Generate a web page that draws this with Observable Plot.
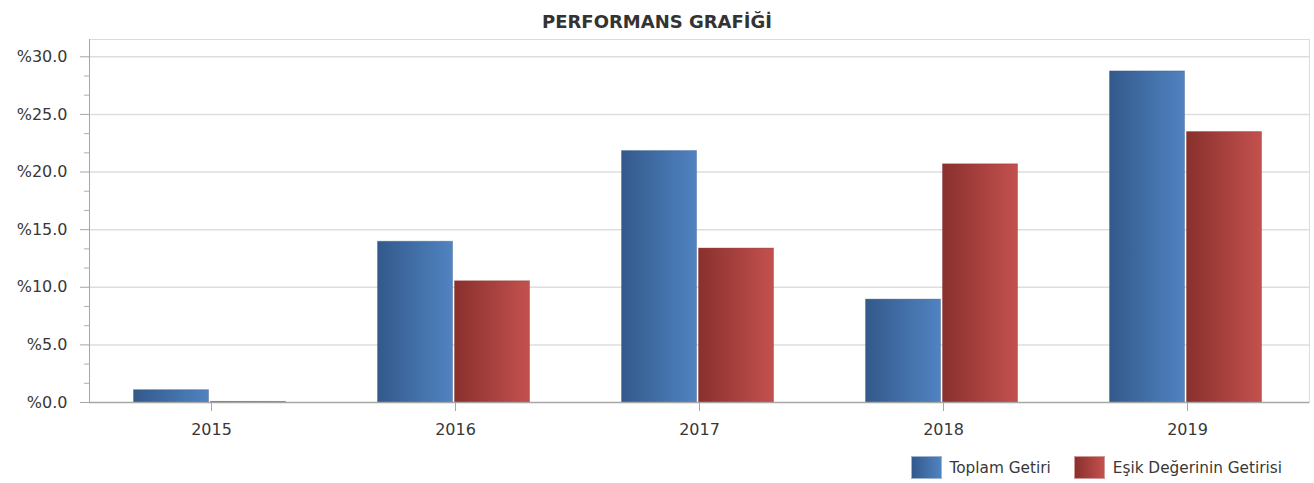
<!DOCTYPE html>
<html>
<head>
<meta charset="utf-8">
<script src="https://cdn.jsdelivr.net/npm/d3@7"></script>
<script src="https://cdn.jsdelivr.net/npm/@observablehq/plot@0.6"></script>
<style>
  html, body { margin: 0; padding: 0; background: #fff; }
  body { width: 1314px; height: 483px; overflow: hidden; font-family: "DejaVu Sans", sans-serif; }
  #title { height: 30px; line-height: 30px; padding-top: 7px; text-align: center; font-weight: bold; font-size: 18px; color: #333; }
  #chart svg { display: block; }
  #legend { display: flex; justify-content: flex-end; align-items: center; padding-top: 6px; padding-right: 32px; font-size: 15.3px; color: #383838; }
  .item { display: flex; align-items: center; margin-left: 23px; }
  .sw { width: 31px; height: 23px; margin-right: 8px; box-sizing: border-box; }
</style>
</head>
<body>
<div id="title">PERFORMANS GRAFİĞİ</div>
<div id="chart"></div>
<div id="legend"></div>
<script>
const years = ["2015", "2016", "2017", "2018", "2019"];
const seriesNames = ["Toplam Getiri", "Eşik Değerinin Getirisi"];
const toplamGetiri = [1.07, 13.95, 21.82, 8.93, 28.73];
const esikGetirisi = [0.05, 10.52, 13.36, 20.67, 23.47];
const yTicks = [0, 5, 10, 15, 20, 25, 30];
const seriesColors = [["#33598b", "#5083c1"], ["#89302d", "#c3514e"]];

const rows = [];
years.forEach((y, i) => {
  rows.push({year: y, series: seriesNames[0], value: toplamGetiri[i]});
  rows.push({year: y, series: seriesNames[1], value: esikGetirisi[i]});
});
const minorTicks = [];
for (let i = 0; i < yTicks.length - 1; i++) {
  const a = yTicks[i], b = yTicks[i + 1];
  minorTicks.push(a + (b - a) / 3, a + 2 * (b - a) / 3);
}
const gradIds = ["gBlue", "gRed"];

const plot = Plot.plot({
  width: 1314,
  height: 413,
  marginLeft: 88,
  marginRight: 4,
  marginTop: 2,
  marginBottom: 48,
  style: {fontFamily: "DejaVu Sans, sans-serif", fontSize: "16px", color: "#383838", background: "#fff"},
  fx: {domain: years, padding: 0, label: null, axis: null},
  x: {domain: seriesNames, paddingInner: 0.02, paddingOuter: 0.58, axis: null},
  y: {domain: [0, 31.5], axis: null},
  marks: [
    Plot.frame({stroke: "#dcdcdc", facet: "super"}),
    Plot.gridY(yTicks.filter(d => d > 0), {stroke: "#dedede", strokeOpacity: 1, strokeWidth: 1.5}),
    Plot.barY(rows.filter(d => d.series === seriesNames[0]), {fx: "year", x: "series", y: "value", fill: "url(#gBlue)", stroke: "#2f5282", strokeOpacity: 0.35, dx: -1.5}),
    Plot.barY(rows.filter(d => d.series === seriesNames[1]), {fx: "year", x: "series", y: "value", fill: "url(#gRed)", stroke: "#7d2a28", strokeOpacity: 0.35, dx: -1.5}),
    Plot.ruleY([0], {stroke: "#a6a6a6", strokeWidth: 1.5}),
    Plot.frame({anchor: "left", stroke: "#a6a6a6", facetAnchor: "left"}),
    Plot.axisY({ticks: minorTicks, tickSize: 5, tickFormat: () => "", stroke: "#b0b0b0", label: null}),
    Plot.axisY({ticks: yTicks, tickSize: 9, tickPadding: 13, tickFormat: d => "%" + d.toFixed(1), stroke: "#a6a6a6", fill: "#383838", label: null}),
    Plot.axisFx({anchor: "bottom", tickSize: 9, tickPadding: 12, label: null, stroke: "#a6a6a6", fill: "#383838"})
  ]
});

const svg = d3.select(plot);
const defs = svg.insert("defs", ":first-child");
gradIds.forEach((id, i) => {
  const g = defs.append("linearGradient").attr("id", id).attr("x1", 0).attr("x2", 1).attr("y1", 0).attr("y2", 0);
  g.append("stop").attr("offset", "0%").attr("stop-color", seriesColors[i][0]);
  g.append("stop").attr("offset", "100%").attr("stop-color", seriesColors[i][1]);
});
document.getElementById("chart").appendChild(plot);

const legend = d3.select("#legend");
seriesNames.forEach((name, i) => {
  const it = legend.append("div").attr("class", "item");
  it.append("div").attr("class", "sw")
    .style("background", `linear-gradient(to right, ${seriesColors[i][0]}, ${seriesColors[i][1]})`)
    .style("border", `1px solid ${i === 0 ? "#9fb4d2" : "#d19a98"}`);
  it.append("span").text(name);
});
</script>
</body>
</html>
